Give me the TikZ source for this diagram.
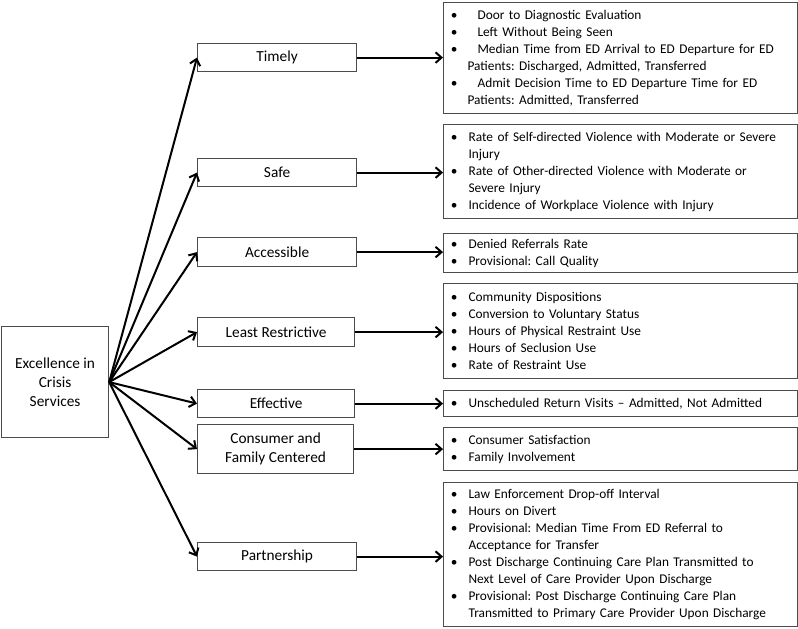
\documentclass[tikz,border=0pt]{standalone}
\usepackage{fontspec}
\setmainfont{Carlito}
\usetikzlibrary{arrows.meta}
\frenchspacing
\newlength\bitfirst \setlength\bitfirst{18.75pt}
\newlength\bithang \setlength\bithang{18.75pt}
\newcommand{\bitem}[1]{\noindent\hangindent=\bithang\hangafter=1\hbox to \bitfirst{\hskip5.5pt\textbullet\hfil}#1\par}
\begin{document}
\begin{tikzpicture}[x=0.75pt,y=-0.75pt,
  box/.style={draw=black!70, line width=0.9pt, inner sep=0pt, align=center,
    font=\fontsize{11.5pt}{14.25pt}\selectfont, anchor=north west},
  listbox/.style={draw=black!70, line width=0.9pt, inner xsep=0pt, inner ysep=0pt,
    text width=265.5pt, align=left, minimum width=265.5pt,
    font=\fontsize{10pt}{12.75pt}\selectfont, anchor=north west},
  conn/.style={line width=1.5pt, -{Straight Barb[length=4.5pt,width=8pt]}}]
\useasboundingbox (0,0) rectangle (798,628);
% root
\node[box, minimum width=80.25pt, minimum height=83.25pt] (root) at (1,326)
  {Excellence in\\Crisis\\Services};
% middle boxes
\node[box, minimum width=119.25pt, minimum height=21pt] (m1) at (197,43) {Timely};
\node[box, minimum width=119.25pt, minimum height=21pt] (m2) at (197,158) {Safe};
\node[box, minimum width=119.25pt, minimum height=21.75pt] (m3) at (197,237) {Accessible};
\node[box, minimum width=117.75pt, minimum height=21.75pt] (m4) at (197,317) {Least Restrictive};
\node[box, minimum width=117.75pt, minimum height=21pt] (m5) at (197,389) {Effective};
\node[box, minimum width=117pt, minimum height=36.75pt] (m6) at (197,424) {Consumer and\\Family Centered};
\node[box, minimum width=119.25pt, minimum height=21pt] (m7) at (197,542) {Partnership};
% list boxes
\node[listbox, minimum height=83.25pt] (l1) at (443,2) {\setlength\bitfirst{25.5pt}\setlength\bithang{18pt}%
  \bitem{Door to Diagnostic Evaluation}
  \bitem{Left Without Being Seen}
  \bitem{Median Time from ED Arrival to ED Departure for ED\newline Patients: Discharged, Admitted, Transferred}
  \bitem{Admit Decision Time to ED Departure Time for ED\newline Patients: Admitted, Transferred}};
\node[listbox, minimum height=70.5pt] (l2) at (443,124) {%
  \bitem{Rate of Self-directed Violence with Moderate or Severe\newline Injury}
  \bitem{Rate of Other-directed Violence with Moderate or\newline Severe Injury}
  \bitem{Incidence of Workplace Violence with Injury}};
\node[listbox, minimum height=29.25pt] (l3) at (443,233) {%
  \bitem{Denied Referrals Rate}
  \bitem{Provisional: Call Quality}};
\node[listbox, minimum height=71.25pt] (l4) at (443,283) {%
  \bitem{Community Dispositions}
  \bitem{Conversion to Voluntary Status}
  \bitem{Hours of Physical Restraint Use}
  \bitem{Hours of Seclusion Use}
  \bitem{Rate of Restraint Use}};
\node[listbox, minimum height=19.5pt] (l5) at (443,390) {%
  \bitem{Unscheduled Return Visits – Admitted, Not Admitted}};
\node[listbox, minimum height=32.25pt] (l6) at (443,427) {%
  \bitem{Consumer Satisfaction}
  \bitem{Family Involvement}};
\node[listbox, minimum height=108pt] (l7) at (443,482) {%
  \bitem{Law Enforcement Drop-off Interval}
  \bitem{Hours on Divert}
  \bitem{Provisional: Median Time From ED Referral to\newline Acceptance for Transfer}
  \bitem{Post Discharge Continuing Care Plan Transmitted to\newline Next Level of Care Provider Upon Discharge}
  \bitem{Provisional: Post Discharge Continuing Care Plan\newline Transmitted to Primary Care Provider Upon Discharge}};
% connectors
\foreach \m in {m1,m2,m3,m4,m5,m6,m7} {\draw[conn] (root.east) -- (\m.west);}
\foreach \m/\l in {m1/l1,m2/l2,m3/l3,m4/l4,m5/l5,m6/l6,m7/l7} {\draw[conn] (\m.east) -- (\m.east -| \l.west);}
\end{tikzpicture}
\end{document}
